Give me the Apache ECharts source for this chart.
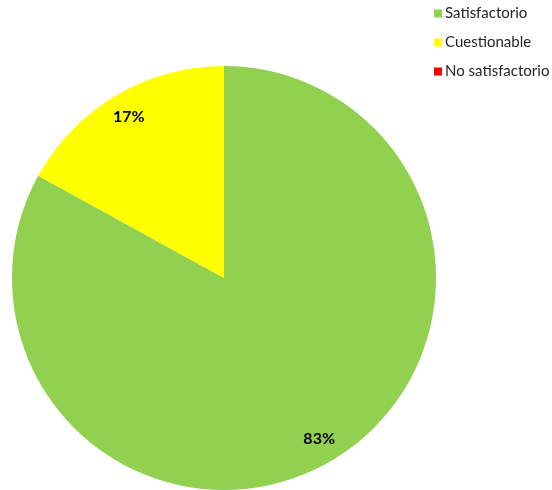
<!DOCTYPE html>
<html>
<head>
<meta charset="utf-8">
<script src="https://cdn.jsdelivr.net/npm/echarts@6/dist/echarts.min.js"></script>
<style>
  html, body { margin: 0; padding: 0; background: #ffffff; }
  #chart { width: 552px; height: 490px; }
</style>
</head>
<body>
<div id="chart"></div>
<script>
// Shares of results per rating
const categories = ['Satisfactorio', 'Cuestionable', 'No satisfactorio'];
const percentages = [83, 17, 0];
const sliceColors = ['#92D050', '#FFFF00', '#FF0000'];

const pieData = categories.map((name, i) => ({
  name: name,
  value: percentages[i],
  itemStyle: { color: sliceColors[i] }
}));

const chart = echarts.init(document.getElementById('chart'), null, { renderer: 'canvas' });

const centre = [224, 278];
const outerRadius = 212;

chart.setOption({
  animation: false,
  backgroundColor: '#ffffff',
  legend: {
    orient: 'vertical',
    left: 429,
    top: 1,
    itemWidth: 8,
    itemHeight: 8,
    itemGap: 14,
    icon: 'rect',
    data: categories,
    textStyle: {
      fontFamily: 'Lato',
      fontSize: 15,
      color: '#262626',
      padding: [0, 0, 0, -2]
    }
  },
  series: [
    {
      // the slices themselves
      type: 'pie',
      center: centre,
      radius: [0, outerRadius],
      startAngle: 90,
      clockwise: true,
      silent: true,
      label: { show: false },
      labelLine: { show: false },
      itemStyle: { borderWidth: 0 },
      data: pieData
    },
    {
      // transparent ring that carries the percentage labels near the rim
      type: 'pie',
      center: centre,
      radius: [156, outerRadius],
      startAngle: 90,
      clockwise: true,
      silent: true,
      itemStyle: { color: 'rgba(0,0,0,0)', borderWidth: 0 },
      label: {
        show: true,
        position: 'inside',
        fontFamily: 'Lato',
        fontWeight: 'bold',
        fontSize: 16,
        color: '#000000',
        formatter: p => (p.value > 0 ? p.value + '%' : '')
      },
      labelLine: { show: false },
      data: categories.map((name, i) => ({ name: name, value: percentages[i] }))
    }
  ]
});
</script>
</body>
</html>
